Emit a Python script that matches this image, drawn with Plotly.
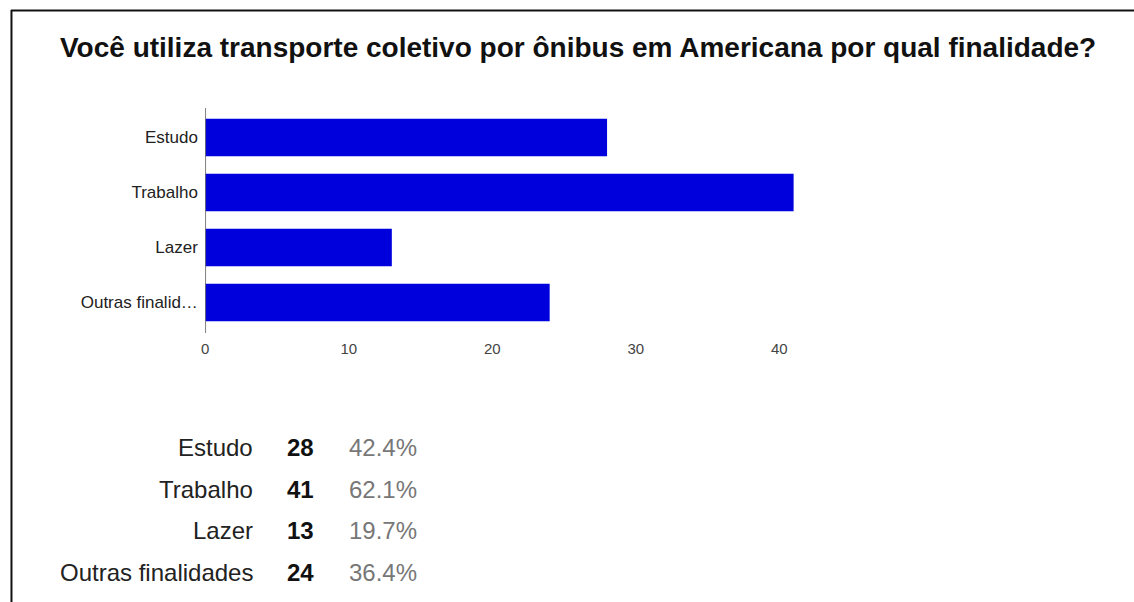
import plotly.graph_objects as go

# Survey answers
categories = ["Estudo", "Trabalho", "Lazer", "Outras finalidades"]
axis_labels = ["Estudo", "Trabalho", "Lazer", "Outras finalid…"]
counts = [28, 41, 13, 24]
percents = ["42.4%", "62.1%", "19.7%", "36.4%"]
x_ticks = [0, 10, 20, 30, 40]

W, H = 1134, 602
FONT = "Liberation Sans, Arial, sans-serif"
BAR_COLOR = "#0000dd"


def px_x(x):
    return x / W


def px_y(y):
    return 1 - y / H


fig = go.Figure(
    go.Bar(
        x=counts,
        y=categories,
        orientation="h",
        marker=dict(color=BAR_COLOR, line=dict(width=0)),
        hoverinfo="skip",
    )
)

# Plot area placed in pixel terms: zero line near 204 px, 10 units ≈ 144 px
x_left_px, x_max = 202, 50
x_right_px = x_left_px + x_max * 14.4
plot_top, plot_bottom = 110, 330

fig.update_layout(
    width=W,
    height=H,
    autosize=False,
    margin=dict(l=0, r=0, t=0, b=0),
    paper_bgcolor="white",
    plot_bgcolor="white",
    showlegend=False,
    bargap=0.32,
    font=dict(family=FONT, color="#222222"),
    xaxis=dict(
        domain=[px_x(x_left_px), px_x(x_right_px)],
        range=[0, x_max],
        tickvals=x_ticks,
        showgrid=False,
        zeroline=False,
        showline=False,
        ticks="outside",
        ticklen=5,
        tickcolor="rgba(0,0,0,0)",
        tickfont=dict(size=15, color="#444444", family=FONT),
        fixedrange=True,
    ),
    yaxis=dict(
        domain=[px_y(plot_bottom), px_y(plot_top)],
        categoryorder="array",
        categoryarray=categories[::-1],
        tickvals=categories,
        ticktext=axis_labels,
        showgrid=False,
        zeroline=False,
        showline=False,
        ticks="outside",
        ticklen=3,
        tickcolor="rgba(0,0,0,0)",
        tickfont=dict(size=17, color="#222222", family=FONT),
        fixedrange=True,
    ),
)

shapes = [
    # baseline at zero
    dict(type="line", xref="x", yref="paper", x0=0, x1=0,
         y0=px_y(333), y1=px_y(108), line=dict(color="#555555", width=1.5)),
    # frame: top and left edges
    dict(type="line", xref="paper", yref="paper", x0=px_x(7), x1=1.0,
         y0=px_y(10.5), y1=px_y(10.5), line=dict(color="#111111", width=2)),
    dict(type="line", xref="paper", yref="paper", x0=px_x(7.5), x1=px_x(7.5),
         y0=0, y1=px_y(10), line=dict(color="#111111", width=2)),
]
fig.update_layout(shapes=shapes)

annotations = [
    dict(text="<b>Você utiliza transporte coletivo por ônibus em Americana por qual finalidade?</b>",
         xref="paper", yref="paper", x=px_x(576), y=px_y(48),
         xanchor="center", yanchor="middle", showarrow=False,
         font=dict(size=28, color="#111111", family=FONT)),
]

# Summary table below the chart
row_y = [447, 489, 530, 572]
for name, n, pct, ry in zip(categories, counts, percents, row_y):
    annotations.append(dict(text=name, xref="paper", yref="paper",
                            x=px_x(252), y=px_y(ry), xanchor="right", yanchor="middle",
                            showarrow=False, font=dict(size=24, color="#222222", family=FONT)))
    annotations.append(dict(text=f"<b>{n}</b>", xref="paper", yref="paper",
                            x=px_x(282), y=px_y(ry), xanchor="left", yanchor="middle",
                            showarrow=False, font=dict(size=24, color="#111111", family=FONT)))
    annotations.append(dict(text=pct, xref="paper", yref="paper",
                            x=px_x(344), y=px_y(ry), xanchor="left", yanchor="middle",
                            showarrow=False, font=dict(size=24, color="#777777", family=FONT)))

fig.update_layout(annotations=annotations)

fig.write_html("out.html", config=dict(displayModeBar=False))
